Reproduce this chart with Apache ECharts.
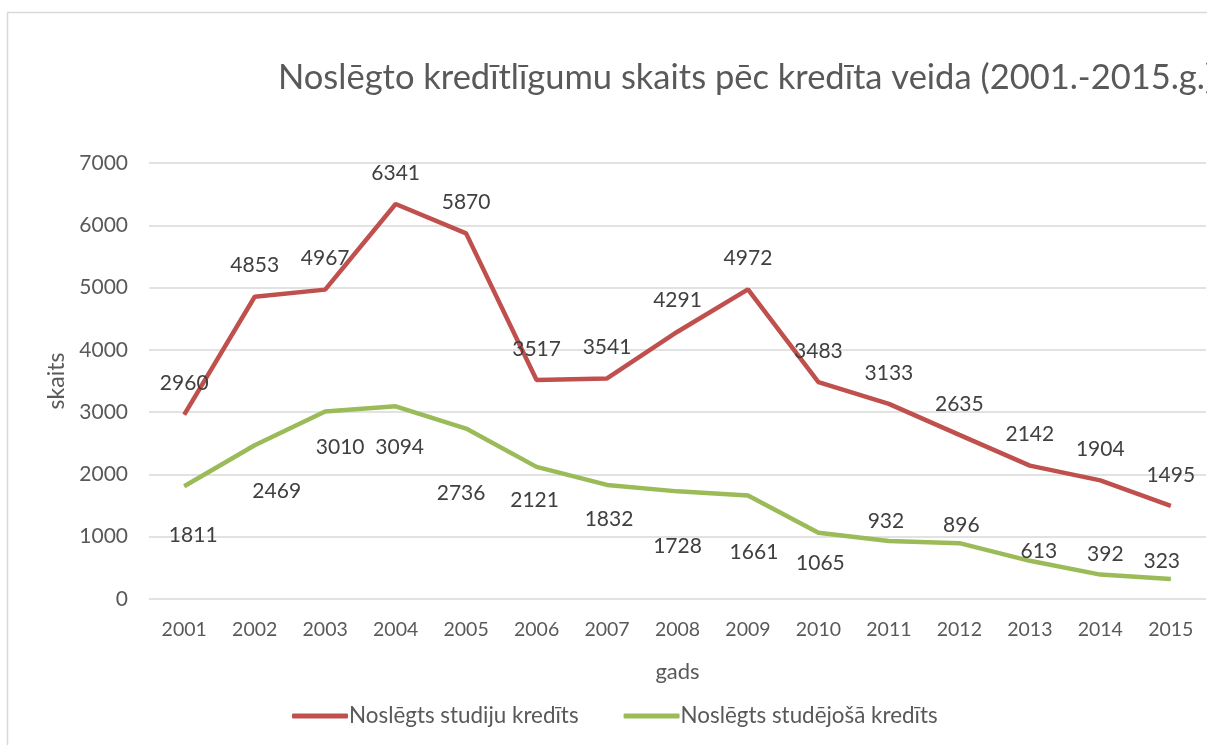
<!DOCTYPE html>
<html>
<head>
<meta charset="utf-8">
<script src="https://cdn.jsdelivr.net/npm/echarts@6/dist/echarts.min.js"></script>
<style>
  html, body { margin: 0; padding: 0; background: #fff; }
  #chart { width: 1207px; height: 745px; }
</style>
</head>
<body>
<div id="chart"></div>
<script>
const years = ["2001", "2002", "2003", "2004", "2005", "2006", "2007", "2008",
  "2009", "2010", "2011", "2012", "2013", "2014", "2015"];
const studiju = [2960, 4853, 4967, 6341, 5870, 3517, 3541, 4291, 4972, 3483, 3133, 2635, 2142, 1904, 1495];
const studejosa = [1811, 2469, 3010, 3094, 2736, 2121, 1832, 1728, 1661, 1065, 932, 896, 613, 392, 323];
const seriesNames = ["Noslēgts studiju kredīts", "Noslēgts studējošā kredīts"];

// where excel put the green value labels, px from the point (dx, dy)
const greenLabelShift = [[9, 49], [22, 46], [15, 36], [4, 41], [-5, 65], [-2, 33], [2, 34], [0, 55],
  [6, 57], [2, 31], [-3, -20], [2, -18], [9, -10], [5, -20], [-9, -18]];

const font = "Lato, 'Open Sans', sans-serif";
const labelStyle = { fontFamily: font, fontSize: 21, color: "#404040" };

const chart = echarts.init(document.getElementById("chart"));
chart.setOption({
  animation: false,
  textStyle: { fontFamily: font },
  graphic: [
    {
      type: "rect",
      shape: { x: 7.5, y: 12.5, width: 1210, height: 740 },
      style: { fill: "none", stroke: "#d9d9d9", lineWidth: 1.5 },
    },
  ],
  title: {
    text: "Noslēgto kredītlīgumu skaits pēc kredīta veida (2001.-2015.g.)",
    left: 273,
    top: 55,
    textStyle: { fontFamily: font, fontSize: 34.5, fontWeight: "normal", color: "#595959" },
  },
  grid: { left: 149, right: 1, top: 163, bottom: 146 },
  legend: {
    top: 700,
    left: 287,
    itemWidth: 56,
    itemHeight: 5,
    itemGap: 45,
    icon: "roundRect",
    textStyle: { fontFamily: font, fontSize: 22.4, color: "#595959", padding: [0, 0, 0, -4] },
    data: seriesNames,
  },
  xAxis: {
    type: "category",
    data: years,
    name: "gads",
    nameLocation: "middle",
    nameGap: 62,
    nameTextStyle: { fontFamily: font, fontSize: 22, color: "#595959" },
    axisLine: { show: false },
    axisTick: { show: false },
    axisLabel: { fontFamily: font, fontSize: 19.5, color: "#595959", margin: 21 },
  },
  yAxis: {
    type: "value",
    min: 0,
    max: 7000,
    interval: 1000,
    name: "skaits",
    nameLocation: "middle",
    nameGap: 64,
    nameTextStyle: { fontFamily: font, fontSize: 23, color: "#595959" },
    axisLabel: {
      fontFamily: font,
      fontSize: 21,
      color: "#595959",
      margin: 21,
      formatter: (v) => String(v),
    },
    splitLine: { lineStyle: { color: "#d9d9d9", width: 1.5 } },
  },
  series: [
    {
      name: seriesNames[0],
      type: "line",
      data: studiju,
      symbol: "circle",
      symbolSize: 1,
      showSymbol: true,
      lineStyle: { color: "#C0504D", width: 4.5 },
      itemStyle: { color: "#C0504D" },
      label: Object.assign({ show: true, position: "top", distance: 20 }, labelStyle),
    },
    {
      name: seriesNames[1],
      type: "line",
      data: studejosa.map((v, i) => ({
        value: v,
        label: { offset: greenLabelShift[i] },
      })),
      symbol: "circle",
      symbolSize: 1,
      showSymbol: true,
      lineStyle: { color: "#9BBB59", width: 4.5 },
      itemStyle: { color: "#9BBB59" },
      label: Object.assign({ show: true, position: "inside" }, labelStyle),
    },
  ],
});
</script>
</body>
</html>
